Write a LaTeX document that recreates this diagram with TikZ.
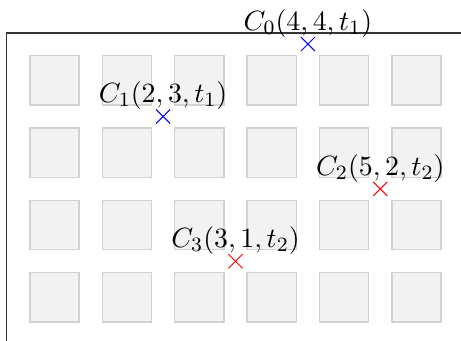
\documentclass[tikz,border=0pt]{standalone}
\usepackage{amssymb,amsmath}
\usepackage{tikz}
\usetikzlibrary{positioning,shapes.misc}

\begin{document}
\begin{tikzpicture}[font={\fontsize{11pt}{13pt}\selectfont}, scale=1.0,
		cell/.style={fill=gray!10, draw=gray!35, line width=0.5pt},
		xmark/.style={cross out, draw=#1, line width=0.4pt, minimum size=0.18cm, inner sep=0pt}]
		\useasboundingbox (-0.253,-0.101) rectangle (6.115,4.609);
		% frame, only its upper left part is seen
		\draw[black!80, line width=0.5pt] (-0.163,-0.3) -- (-0.163,4.153) -- (6.3,4.153);
		% grid of cells
		\foreach \i in {0,...,5}
			\foreach \j in {0,...,3}
				\draw[cell] (\i+0.16,\j+0.16) rectangle (\i+0.84,\j+0.84);
		% grid corners and their labels
		\node[xmark=blue] (c0) at (4,4) {};
		\node[xmark=blue] (c1) at (2,3) {};
		\node[xmark=red] (c2) at (5,2) {};
		\node[xmark=red] (c3) at (3,1) {};
		\node[above=0.5pt of c0.center, inner sep=2pt] (l0) {$C_0(4,4,t_1)$};
		\node[above=0.5pt of c1.center, inner sep=2pt] (l1) {$C_1(2,3,t_1)$};
		\node[above=0.5pt of c2.center, inner sep=2pt] (l2) {$C_2(5,2,t_2)$};
		\node[above=0.5pt of c3.center, inner sep=2pt] (l3) {$C_3(3,1,t_2)$};
	\end{tikzpicture}
\end{document}
